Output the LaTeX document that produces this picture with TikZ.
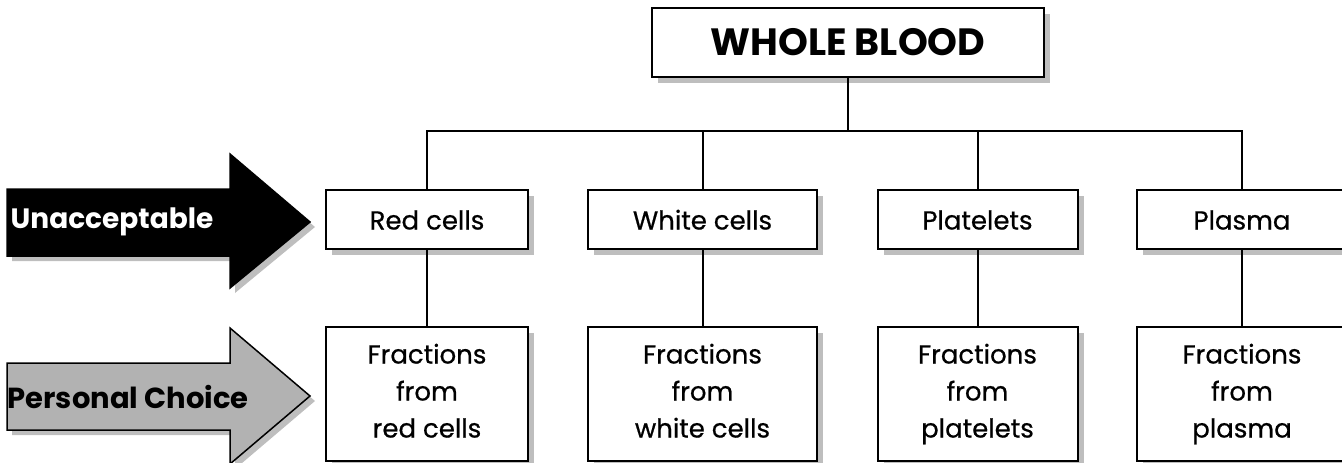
\documentclass[tikz,border=0pt]{standalone}
\usepackage{fontspec}
\setmainfont{Poppins}
\newfontfamily\boxfont[FakeBold=0.6]{Poppins}
\usetikzlibrary{shadows}
\definecolor{shgray}{RGB}{190,190,190}
\definecolor{argray}{RGB}{178,178,178}
\begin{document}
\begin{tikzpicture}[x=1pt,y=-1pt,
  sh/.style={drop shadow={shadow xshift=6pt,shadow yshift=-6pt,opacity=1,fill=shgray}},
  ash/.style={drop shadow={shadow xshift=5pt,shadow yshift=-5pt,opacity=1,fill=shgray}},
  box/.style={draw=black,line width=2pt,fill=white,sh,inner sep=0pt,align=center,
    font=\boxfont\fontsize{26}{37}\selectfont},
  top/.style={box,minimum height=59pt,text height=20pt,text depth=0pt},
  frac/.style={box,minimum height=134pt},
  conn/.style={line width=2pt},
  arrowshape/.style={draw=black,line width=1.5pt,ash}]
\useasboundingbox (0,0) rectangle (1342,463);
% arrows
\path[arrowshape,fill=black] (7,189) -- (230,189) -- (230,154) -- (310,222) -- (230,288) -- (230,256) -- (7,256) -- cycle;
\path[arrowshape,fill=argray] (7,363) -- (230,363) -- (230,328) -- (310,396) -- (230,464) -- (230,430) -- (7,430) -- cycle;
\node[text=white,font=\fontsize{28}{30}\selectfont\bfseries] (unacc) at (112,222) {Unacceptable};
\node[text=black,font=\fontsize{29}{30}\selectfont\bfseries] (pers) at (128,397) {Personal Choice};
% boxes
\node[box,minimum width=392pt,minimum height=69pt,font=\fontsize{38}{40}\selectfont\bfseries] (wb) at (848,42.5) {WHOLE BLOOD};
\node[top,minimum width=202pt] (red) at (427,219.5) {Red cells};
\node[top,minimum width=229pt] (white) at (702.5,219.5) {White cells};
\node[top,minimum width=200pt] (plat) at (977.5,219.5) {Platelets};
\node[top,minimum width=210pt] (plas) at (1242,219.5) {Plasma};
\node[frac,minimum width=202pt] (redf) at (427,394) {Fractions\\from\\red cells\vphantom{p}};
\node[frac,minimum width=229pt] (whitef) at (702.5,394) {Fractions\\from\\white cells\vphantom{p}};
\node[frac,minimum width=200pt] (platf) at (977.5,394) {Fractions\\from\\platelets};
\node[frac,minimum width=210pt] (plasf) at (1242,394) {Fractions\\from\\plasma};
% connectors
\coordinate (bar) at (848,131);
\draw[conn] (wb.south) -- (bar);
\draw[conn] (red.north) -- (red.north |- bar) -- (plas.north |- bar) -- (plas.north);
\draw[conn] (white.north) -- (white.north |- bar);
\draw[conn] (plat.north) -- (plat.north |- bar);
\draw[conn] (red.south) -- (redf.north);
\draw[conn] (white.south) -- (whitef.north);
\draw[conn] (plat.south) -- (platf.north);
\draw[conn] (plas.south) -- (plasf.north);
\end{tikzpicture}
\end{document}
